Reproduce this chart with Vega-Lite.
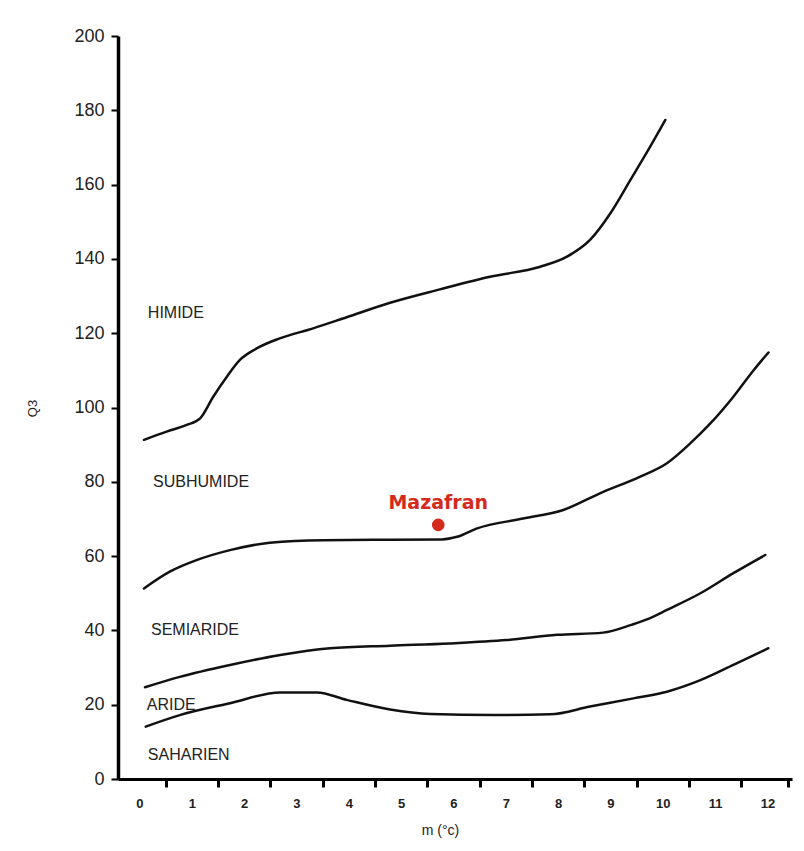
{
  "$schema": "https://vega.github.io/schema/vega-lite/v6.json",
  "width": 674,
  "height": 743,
  "autosize": {"type": "none"},
  "padding": {"left": 118, "top": 36, "right": 12, "bottom": 72},
  "background": "white",
  "config": {
    "view": {"stroke": null},
    "font": "Liberation Sans"
  },
  "resolve": {"axis": {"x": "independent"}},
  "layer": [
    {
      "data": {
        "values": [
          {"curve": "c1", "m": 0.086, "Q3": 91.3},
          {"curve": "c1", "m": 0.52, "Q3": 93.5},
          {"curve": "c1", "m": 0.90, "Q3": 95.3},
          {"curve": "c1", "m": 1.16, "Q3": 97.1},
          {"curve": "c1", "m": 1.41, "Q3": 102.9},
          {"curve": "c1", "m": 1.67, "Q3": 108.3},
          {"curve": "c1", "m": 1.92, "Q3": 112.8},
          {"curve": "c1", "m": 2.24, "Q3": 115.9},
          {"curve": "c1", "m": 2.68, "Q3": 118.6},
          {"curve": "c1", "m": 3.32, "Q3": 121.3},
          {"curve": "c1", "m": 3.96, "Q3": 124.3},
          {"curve": "c1", "m": 4.79, "Q3": 128.2},
          {"curve": "c1", "m": 5.74, "Q3": 131.8},
          {"curve": "c1", "m": 6.70, "Q3": 135.2},
          {"curve": "c1", "m": 7.66, "Q3": 137.9},
          {"curve": "c1", "m": 8.17, "Q3": 140.6},
          {"curve": "c1", "m": 8.61, "Q3": 145.1},
          {"curve": "c1", "m": 9.00, "Q3": 152.3},
          {"curve": "c1", "m": 9.38, "Q3": 161.2},
          {"curve": "c1", "m": 9.76, "Q3": 170.2},
          {"curve": "c1", "m": 10.05, "Q3": 177.4},
          {"curve": "c2", "m": 0.086, "Q3": 51.3},
          {"curve": "c2", "m": 0.58, "Q3": 55.8},
          {"curve": "c2", "m": 1.09, "Q3": 58.9},
          {"curve": "c2", "m": 1.73, "Q3": 61.6},
          {"curve": "c2", "m": 2.49, "Q3": 63.6},
          {"curve": "c2", "m": 3.51, "Q3": 64.3},
          {"curve": "c2", "m": 4.79, "Q3": 64.4},
          {"curve": "c2", "m": 5.78, "Q3": 64.5},
          {"curve": "c2", "m": 6.07, "Q3": 65.2},
          {"curve": "c2", "m": 6.44, "Q3": 67.4},
          {"curve": "c2", "m": 7.33, "Q3": 70.1},
          {"curve": "c2", "m": 8.10, "Q3": 72.4},
          {"curve": "c2", "m": 8.80, "Q3": 76.9},
          {"curve": "c2", "m": 9.57, "Q3": 81.4},
          {"curve": "c2", "m": 10.08, "Q3": 85.0},
          {"curve": "c2", "m": 10.53, "Q3": 90.4},
          {"curve": "c2", "m": 10.91, "Q3": 95.7},
          {"curve": "c2", "m": 11.35, "Q3": 102.9},
          {"curve": "c2", "m": 11.74, "Q3": 110.1},
          {"curve": "c2", "m": 12.02, "Q3": 114.8},
          {"curve": "c3", "m": 0.105, "Q3": 24.7},
          {"curve": "c3", "m": 0.77, "Q3": 27.5},
          {"curve": "c3", "m": 1.73, "Q3": 30.7},
          {"curve": "c3", "m": 2.69, "Q3": 33.4},
          {"curve": "c3", "m": 3.64, "Q3": 35.2},
          {"curve": "c3", "m": 4.79, "Q3": 35.9},
          {"curve": "c3", "m": 5.92, "Q3": 36.5},
          {"curve": "c3", "m": 7.02, "Q3": 37.4},
          {"curve": "c3", "m": 7.98, "Q3": 38.8},
          {"curve": "c3", "m": 8.86, "Q3": 39.4},
          {"curve": "c3", "m": 9.40, "Q3": 41.5},
          {"curve": "c3", "m": 9.76, "Q3": 43.3},
          {"curve": "c3", "m": 10.08, "Q3": 45.5},
          {"curve": "c3", "m": 10.72, "Q3": 50.0},
          {"curve": "c3", "m": 11.35, "Q3": 55.4},
          {"curve": "c3", "m": 11.96, "Q3": 60.3},
          {"curve": "c4", "m": 0.12, "Q3": 14.1},
          {"curve": "c4", "m": 0.77, "Q3": 17.2},
          {"curve": "c4", "m": 1.73, "Q3": 20.4},
          {"curve": "c4", "m": 2.69, "Q3": 23.3},
          {"curve": "c4", "m": 3.39, "Q3": 23.3},
          {"curve": "c4", "m": 3.96, "Q3": 21.3},
          {"curve": "c4", "m": 4.79, "Q3": 18.7},
          {"curve": "c4", "m": 5.56, "Q3": 17.5},
          {"curve": "c4", "m": 6.76, "Q3": 17.2},
          {"curve": "c4", "m": 7.85, "Q3": 17.4},
          {"curve": "c4", "m": 8.61, "Q3": 19.5},
          {"curve": "c4", "m": 9.44, "Q3": 21.7},
          {"curve": "c4", "m": 10.08, "Q3": 23.5},
          {"curve": "c4", "m": 10.72, "Q3": 26.6},
          {"curve": "c4", "m": 11.35, "Q3": 30.7},
          {"curve": "c4", "m": 12.02, "Q3": 35.2}
        ]
      },
      "mark": {"type": "line", "interpolate": "monotone", "color": "#111111", "strokeWidth": 2.5, "strokeCap": "round"},
      "encoding": {
        "x": {
          "field": "m", "type": "quantitative",
          "scale": {"domain": [-0.41, 12.47], "nice": false, "zero": false},
          "axis": {
            "orient": "bottom",
            "values": [0, 1, 2, 3, 4, 5, 6, 7, 8, 9, 10, 11, 12],
            "ticks": false,
            "grid": false,
            "domain": true,
            "domainColor": "#000000",
            "domainWidth": 3,
            "labelFont": "Liberation Sans",
            "labelFontWeight": "bold",
            "labelFontSize": 13,
            "labelColor": "#222222",
            "labelPadding": 18,
            "labelFlush": false,
            "title": "m (°c)",
            "titleFont": "Liberation Sans",
            "titleFontWeight": "normal",
            "titleFontSize": 14,
            "titleColor": "#222222",
            "titleX": 322,
            "titleY": 51,
            "titleBaseline": "middle"
          }
        },
        "y": {
          "field": "Q3", "type": "quantitative",
          "scale": {"domain": [0, 200], "nice": false},
          "axis": {
            "values": [0, 20, 40, 60, 80, 100, 120, 140, 160, 180, 200],
            "grid": false,
            "domainColor": "#000000",
            "domainWidth": 3.5,
            "tickColor": "#000000",
            "tickSize": 7,
            "tickWidth": 2,
            "labelFont": "Liberation Sans",
            "labelFontSize": 18,
            "labelColor": "#222222",
            "labelPadding": 7,
            "labelFlush": false,
            "title": "Q3",
            "titleFont": "Liberation Sans",
            "titleFontWeight": "normal",
            "titleFontSize": 13,
            "titleColor": "#222222",
            "titleX": -86,
            "titleY": 372,
            "titleAngle": 270,
            "titleAlign": "center",
            "titleBaseline": "middle"
          }
        },
        "detail": {"field": "curve", "type": "nominal"}
      }
    },
    {
      "data": {
        "values": [
          {"zone": "HIMIDE", "m": 0.16, "Q3": 125.4},
          {"zone": "SUBHUMIDE", "m": 0.26, "Q3": 80.0},
          {"zone": "SEMIARIDE", "m": 0.22, "Q3": 40.1},
          {"zone": "ARIDE", "m": 0.14, "Q3": 19.9},
          {"zone": "SAHARIEN", "m": 0.16, "Q3": 6.5}
        ]
      },
      "mark": {"type": "text", "align": "left", "baseline": "middle", "font": "Liberation Sans", "fontSize": 16, "color": "#222222"},
      "encoding": {
        "x": {
          "field": "m", "type": "quantitative",
          "axis": {
            "orient": "bottom",
            "values": [0.5, 1.5, 2.5, 3.5, 4.5, 5.5, 6.5, 7.5, 8.5, 9.5, 10.5, 11.5, 12.4],
            "labels": false,
            "domain": false,
            "grid": false,
            "ticks": true,
            "tickColor": "#000000",
            "tickSize": 8,
            "tickWidth": 3,
            "title": null
          }
        },
        "y": {"field": "Q3", "type": "quantitative"},
        "text": {"field": "zone", "type": "nominal"}
      }
    },
    {
      "data": {"values": [{"site": "Mazafran", "m": 5.71, "Q3": 68.4}]},
      "mark": {"type": "circle", "size": 160, "color": "#d42a1e", "opacity": 1},
      "encoding": {
        "x": {"field": "m", "type": "quantitative", "axis": null},
        "y": {"field": "Q3", "type": "quantitative"}
      }
    },
    {
      "data": {"values": [{"site": "Mazafran", "m": 5.71, "Q3": 68.4}]},
      "mark": {"type": "text", "align": "center", "baseline": "middle", "dy": -22, "font": "DejaVu Sans", "fontWeight": "bold", "fontSize": 19, "color": "#d42a1e"},
      "encoding": {
        "x": {"field": "m", "type": "quantitative", "axis": null},
        "y": {"field": "Q3", "type": "quantitative"},
        "text": {"field": "site", "type": "nominal"}
      }
    }
  ]
}
